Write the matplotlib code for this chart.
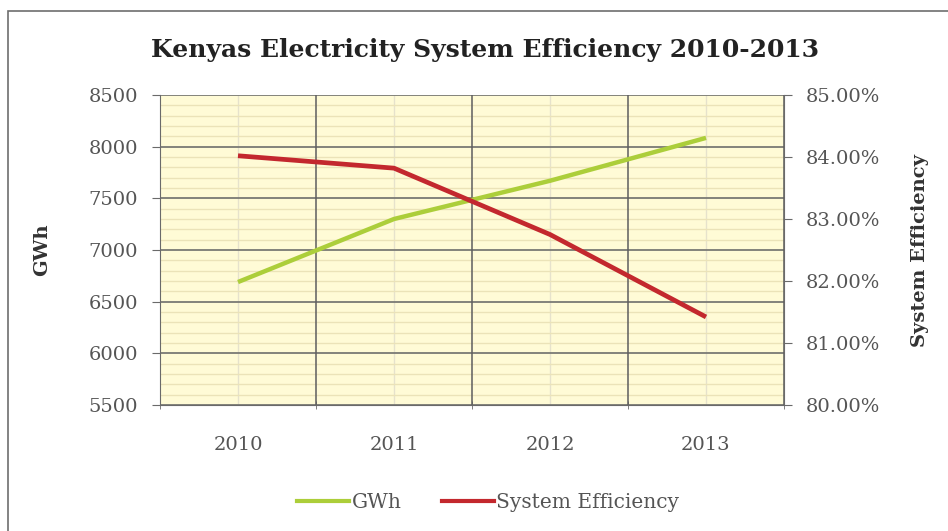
import matplotlib.pyplot as plt
from matplotlib.ticker import MultipleLocator, FuncFormatter
from matplotlib.lines import Line2D
from matplotlib.patches import Rectangle

years = ['2010', '2011', '2012', '2013']
gwh = [6690, 7300, 7670, 8085]
efficiency = [84.02, 83.82, 82.75, 81.42]

plt.rcParams['font.family'] = ['DejaVu Serif']

fig = plt.figure(figsize=(9.48, 5.31), dpi=100)
ax = fig.add_axes([160 / 948, 1 - 405 / 531, 624 / 948, 310 / 531])

# outer chart frame
fig.patches.append(Rectangle((8 / 948, -0.1), 1.2, 1 - 11 / 531 + 0.1,
                             transform=fig.transFigure, fill=False,
                             edgecolor='#6e6e6e', linewidth=1.2))

x = list(range(len(years)))
ax.set_facecolor('#fffbd6')
ax.plot(x, gwh, color='#acce3a', linewidth=3.2, solid_capstyle='butt', zorder=5)
ax.set_xlim(-0.5, 3.5)
ax.set_ylim(5500, 8500)
ax.yaxis.set_major_locator(MultipleLocator(500))
ax.yaxis.set_minor_locator(MultipleLocator(100))
ax.set_xticks(x)
ax.set_xticklabels(years)
ax.set_xticks([-0.5, 0.5, 1.5, 2.5, 3.5], minor=True)

ax.grid(axis='y', which='major', color='#7a7a74', linewidth=1.3)
ax.grid(axis='y', which='minor', color='#ebe3b8', linewidth=1.0)
ax.grid(axis='x', which='major', color='#e6e2cc', linewidth=1.0)
ax.set_axisbelow(True)
# dark vertical lines between categories
for b in ax.get_xticks(minor=True):
    ax.axvline(b, color='#5e5e5e', linewidth=1.1, zorder=1.5)

for s in ['top', 'right']:
    ax.spines[s].set_visible(False)
ax.spines['left'].set_color('#6a6a6a')
ax.spines['bottom'].set_color('#6a6a6a')
ax.tick_params(axis='x', which='major', length=0, pad=22, labelsize=14, labelcolor='#555555')
ax.tick_params(axis='x', which='minor', length=6, direction='inout', color='#6a6a6a')
ax.tick_params(axis='y', which='major', length=6, direction='out', pad=10,
               labelsize=14, labelcolor='#555555', color='#6a6a6a')
ax.tick_params(axis='y', which='minor', length=0)
ax.set_ylabel('GWh', fontsize=14, fontweight='bold', color='#333333', labelpad=27)

ax2 = ax.twinx()
ax2.plot(x, efficiency, color='#c3282e', linewidth=3.4, solid_capstyle='butt', zorder=6)
ax2.set_ylim(80, 85)
ax2.yaxis.set_major_locator(MultipleLocator(1))
ax2.yaxis.set_major_formatter(FuncFormatter(lambda v, p: f'{v:.2f}%'))
for s in ['top', 'left', 'bottom']:
    ax2.spines[s].set_visible(False)
ax2.spines['right'].set_color('#6a6a6a')
ax2.tick_params(axis='y', length=6, direction='out', pad=10, labelsize=14,
                labelcolor='#555555', color='#6a6a6a')
ax2.set_ylabel('System Efficiency', fontsize=14, fontweight='bold', color='#333333', labelpad=22)

fig.text(485 / 948, 1 - 50 / 531, 'Kenyas Electricity System Efficiency 2010-2013',
         ha='center', va='center', fontsize=18, fontweight='bold', color='#222222')

handles = [Line2D([], [], color='#acce3a', linewidth=3),
           Line2D([], [], color='#c3282e', linewidth=3)]
fig.legend(handles, ['GWh', 'System Efficiency'], loc='center',
           bbox_to_anchor=(488 / 948, 1 - 503 / 531), ncol=2, frameon=False,
           fontsize=14.5, labelcolor='#555555', handlelength=2.6, handletextpad=0.1,
           columnspacing=2.0)

fig.savefig('out.png', dpi=100)
